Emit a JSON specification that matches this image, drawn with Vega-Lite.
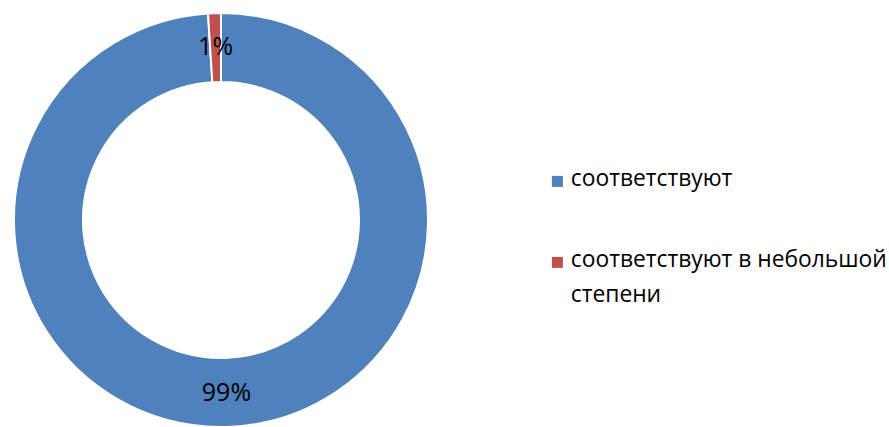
{
  "$schema": "https://vega.github.io/schema/vega-lite/v6.json",
  "width": 442,
  "height": 440,
  "padding": 0,
  "background": "white",
  "config": {"view": {"stroke": null}, "font": "Open Sans", "style": {"guide-label": {"lineHeight": 35, "dy": -13}}},
  "data": {"values": [
    {"category": "соответствуют", "value": 99, "label": "99%", "ord": 1},
    {"category": "соответствуют в небольшой степени", "value": 1, "label": "1%", "ord": 2}
  ]},
  "encoding": {
    "theta": {"field": "value", "type": "quantitative", "stack": true},
    "order": {"field": "ord", "type": "quantitative"},
    "color": {
      "field": "category", "type": "nominal",
      "scale": {"domain": ["соответствуют", "соответствуют в небольшой степени"], "range": ["#4F81BD", "#C0504D"]},
      "legend": {
        "title": null, "orient": "none", "legendX": 546, "legendY": 170,
        "symbolType": "square", "symbolSize": 121, "symbolStrokeWidth": 0,
        "labelFont": "Open Sans", "labelFontSize": 22.8, "labelColor": "#000000",
        "labelLimit": 400, "rowPadding": 57, "labelOffset": 2, "labelBaseline": "top",
        "labelExpr": "datum.label == 'соответствуют в небольшой степени' ? ['соответствуют в небольшой', 'степени'] : datum.label"
      }
    }
  },
  "layer": [
    {"mark": {"type": "arc", "outerRadius": 207, "innerRadius": 138, "stroke": "white", "strokeWidth": 2}},
    {"mark": {"type": "text", "radius": 173, "fontSize": 25, "font": "Open Sans", "color": "#000000"},
     "encoding": {"text": {"field": "label"}, "color": {"value": "#000000"}}}
  ]
}
